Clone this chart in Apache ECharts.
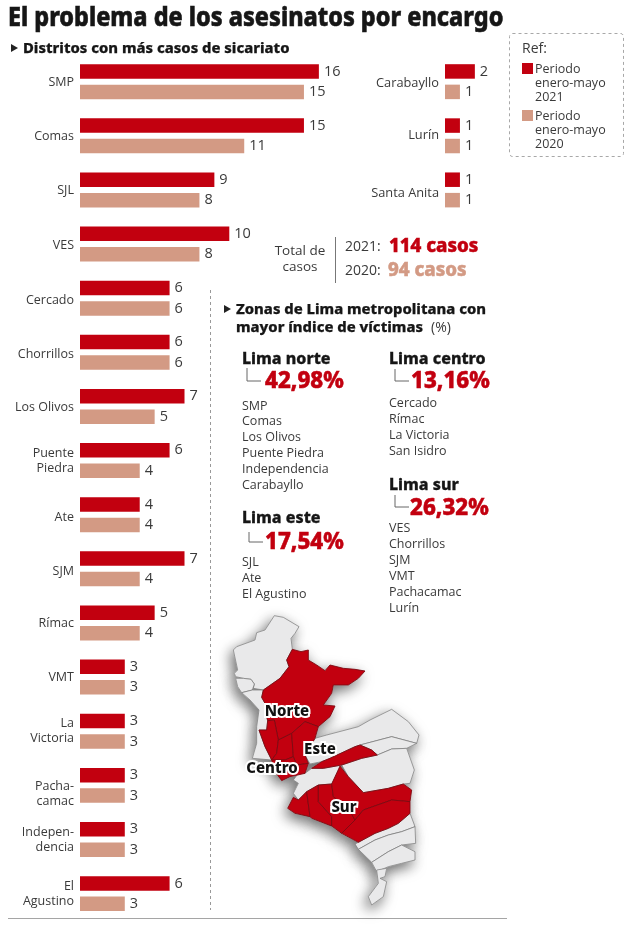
<!DOCTYPE html>
<html><head><meta charset="utf-8">
<style>html,body{margin:0;padding:0;background:#fff}#c{width:640px;height:926px}</style>
<script src="https://cdn.jsdelivr.net/npm/echarts@6/dist/echarts.min.js"></script>
</head><body><div id="c"></div>
<script>
// ---- data ----
const districtsMain = ['SMP','Comas','SJL','VES','Cercado','Chorrillos','Los Olivos','Puente\nPiedra','Ate','SJM','Rímac','VMT','La\nVictoria','Pacha-\ncamac','Indepen-\ndencia','El\nAgustino'];
const cases2021Main = [16,15,9,10,6,6,7,6,4,7,5,3,3,3,3,6];
const cases2020Main = [15,11,8,8,6,6,5,4,4,4,4,3,3,3,3,3];
const districtsSide = ['Carabayllo','Lurín','Santa Anita'];
const cases2021Side = [2,1,1];
const cases2020Side = [1,1,1];
const seriesNames = ['Periodo enero-mayo 2021','Periodo enero-mayo 2020'];
const labelNudgeMain = [1,1,1,1,2,2,1,0,3,3,0,0,0,9,0,0];
const labelNudgeSide = [2,0,3];
const RED='#c2000f', SALMON='#d39a84', INK='#161616', BODY='#3a3a3a';
const FONT='"Open Sans"', HEAD='"Noto Sans"';

// map regions (crop units)
const zonesRed = {
 n1:[[232,118],[258,125],[280,120],[280,150],[305,165],[330,182],[345,165],[385,175],[420,178],[450,183],[430,205],[400,225],[355,225],[350,250],[325,285],[360,288],[345,320],[310,350],[270,335],[230,370],[190,390],[178,330],[158,332],[150,300],[150,280],[140,262],[145,240],[195,205],[222,170],[215,150]],
 n2:[[158,332],[178,330],[190,390],[185,430],[170,450],[150,410],[132,360],[155,360]],
 n3:[[190,390],[230,370],[235,440],[210,450],[170,450],[185,430]],
 n4:[[230,370],[270,335],[310,350],[300,385],[270,435],[280,460],[245,465],[235,440]],
 c1:[[170,450],[210,450],[235,440],[245,465],[280,460],[270,490],[225,500],[200,512],[180,485]],
 e1:[[290,475],[320,455],[345,445],[420,410],[435,405],[470,420],[487,435],[440,445],[380,465],[325,475]],
 s1:[[218,595],[235,562],[250,570],[275,545],[285,620],[240,610]],
 s2:[[275,545],[310,525],[310,575],[350,620],[350,648],[290,625],[285,620]],
 s3:[[310,525],[350,522],[355,560],[400,595],[420,630],[380,670],[350,648],[350,620],[310,575]],
 s4:[[350,522],[375,468],[400,500],[445,548],[520,535],[565,522],[590,540],[585,575],[530,570],[445,600],[420,630],[400,595],[355,560]],
 s5:[[420,630],[445,600],[530,570],[585,575],[585,610],[550,640],[520,655],[480,670],[430,697],[380,670]]
};
const zonesGrey = {
 g1:[[178,17],[205,22],[252,50],[240,70],[228,85],[232,118],[215,150],[222,170],[195,205],[145,240],[115,235],[118,222],[108,208],[85,205],[62,200],[58,190],[68,180],[55,120],[65,110],[120,90],[125,68],[150,60]],
 g2:[[62,205],[85,205],[108,208],[118,222],[112,240],[80,248],[68,230]],
 g3:[[80,248],[112,240],[145,240],[140,262],[150,280],[150,300],[158,332],[155,360],[132,360],[150,410],[170,450],[112,445],[125,400],[125,350],[132,300],[105,270]],
 g4:[[335,375],[430,350],[465,330],[530,298],[580,335],[612,375],[605,400],[530,380],[435,405],[420,410],[345,445],[320,455],[285,462],[270,435],[300,385]],
 g5:[[435,405],[530,380],[605,400],[575,415],[530,417],[487,435],[470,420]],
 g6:[[380,465],[440,445],[487,435],[530,417],[575,415],[598,480],[585,520],[565,522],[520,535],[445,548],[400,500]],
 g7:[[250,490],[270,490],[290,475],[325,475],[380,465],[350,522],[310,525],[275,545],[250,570],[235,550],[250,520],[235,510]],
 g8:[[585,610],[600,650],[560,665],[520,675],[480,690],[430,718],[420,702],[430,697],[480,670],[520,655],[550,640]],
 g9:[[430,718],[480,690],[520,675],[560,665],[600,650],[602,700],[560,705],[520,725],[470,757]],
 g10:[[470,757],[520,725],[560,705],[600,725],[600,750],[560,760],[520,770],[485,785]],
 g11:[[485,780],[515,775],[510,800],[495,805],[515,815],[505,860],[470,885],[460,860],[490,820]]
};
const mapLabels = [['Norte',287,711],['Este',320,749],['Centro',272,768],['Sur',344,807]];

// ---- map ----
const poly=(name,ring)=>({type:'Feature',properties:{name},geometry:{type:'Polygon',coordinates:[ring.concat([ring[0]])]}});
echarts.registerMap('lima',{type:'FeatureCollection',features:[
 ...Object.entries(zonesGrey).map(([k,v])=>poly(k,v)),
 ...Object.entries(zonesRed).map(([k,v])=>poly(k,v))]});
const identity={project:p=>p,unproject:p=>p};
const baseGeo={map:'lima',projection:identity,boundingCoords:[[0,0],[660,930]],left:215,top:610,width:220,height:310,roam:false,silent:true,label:{show:false},emphasis:{disabled:true},select:{disabled:true}};
const redRegions=Object.keys(zonesRed).map(name=>({name,itemStyle:{areaColor:RED,borderColor:'#7d0a12',borderWidth:.9}}));

// ---- text helpers ----
const T=(text,x,y,size,o={})=>({type:'text',x,y:y+1,silent:true,z:20,scaleX:o.sx||1,style:Object.assign({text,fontSize:size,fontFamily:o.ff||FONT,fontWeight:o.w||'normal',fill:o.c||BODY,align:o.a||'left',verticalAlign:'middle'},o.s||{})});
const heavy=(c,w)=>({stroke:c,lineWidth:w});
const tri=(x,y)=>({type:'polygon',silent:true,shape:{points:[[x,y-4],[x+7,y],[x,y+4]]},style:{fill:'#222'}});
const L=(x,y1,y2,x2)=>({type:'polyline',silent:true,shape:{points:[[x,y1],[x,y2],[x2,y2]]},style:{stroke:'#666',fill:null,lineWidth:1}});
const list=(items,x,y0,step)=>items.map((t,i)=>T(t,x,y0+i*step,12.5));
const swatch=(x,y,c)=>({type:'rect',silent:true,shape:{x,y,width:11,height:11},style:{fill:c}});
const zoneBlock=(name,pct,x,y,px,py,bx,by1,by2)=>[T(name,x,y,16,{w:800,c:INK,ff:HEAD,s:heavy(INK,.3)}),L(bx,by1,by2,bx+14),T(pct,px,py+1,22.3,{w:800,c:RED,ff:HEAD,s:heavy(RED,.5)})];

const graphics=[
 T('El problema de los asesinatos por encargo',8,17,27,{w:800,c:INK,ff:HEAD,sx:.865,s:heavy(INK,.6)}),
 tri(11,48),T('Distritos con más casos de sicariato',23,48,14.8,{w:800,c:INK,ff:HEAD,s:heavy(INK,.25)}),
 {type:'rect',silent:true,shape:{x:509.5,y:33.5,width:114,height:123,r:3},style:{fill:null,stroke:'#a8a8a8',lineWidth:1,lineDash:[3,3]}},
 T('Ref:',522,48,14),
 swatch(522,63,RED),T('Periodo\nenero-mayo\n2021',535,82,12.5,{s:{lineHeight:14}}),
 swatch(522,110,SALMON),T('Periodo\nenero-mayo\n2020',535,129,12.5,{s:{lineHeight:14}}),
 T('Total de\ncasos',300,258,13.5,{a:'center',s:{lineHeight:16}}),
 {type:'line',silent:true,shape:{x1:335.5,y1:237,x2:335.5,y2:283},style:{stroke:'#777',lineWidth:1}},
 T('2021:',345,246,14),T('114 casos',389,246,18.7,{w:800,c:RED,ff:HEAD,s:heavy(RED,.5)}),
 T('2020:',345,270,14),T('94 casos',388,270,18.7,{w:800,c:SALMON,ff:HEAD,s:heavy(SALMON,.5)}),
 {type:'line',silent:true,shape:{x1:210.5,y1:290,x2:210.5,y2:910},style:{stroke:'#999',lineWidth:1,lineDash:[3,3]}},
 tri(224,309),T('Zonas de Lima metropolitana con',236,309,14.8,{w:800,c:INK,ff:HEAD,s:heavy(INK,.25)}),
 T('mayor índice de víctimas',236,327,14.8,{w:800,c:INK,ff:HEAD,s:heavy(INK,.25)}),T('(%)',431,327,14),
 ...zoneBlock('Lima norte','42,98%',242,358,265,380,247,368,381),
 ...list(['SMP','Comas','Los Olivos','Puente Piedra','Independencia','Carabayllo'],242,405,15.9),
 ...zoneBlock('Lima este','17,54%',242,517,265,541,249,532,542),
 ...list(['SJL','Ate','El Agustino'],242,561,16),
 ...zoneBlock('Lima centro','13,16%',389,358,411,380,395,369,381),
 ...list(['Cercado','Rímac','La Victoria','San Isidro'],389,402,16),
 ...zoneBlock('Lima sur','26,32%',389,484,410,507,395,495,507),
 ...list(['VES','Chorrillos','SJM','VMT','Pachacamac','Lurín'],389,527,16),
 ...mapLabels.map(([t,x,y])=>T(t,x,y,15,{w:800,c:'#111',ff:HEAD,a:'center',s:{stroke:'#fff',lineWidth:4}})),
 {type:'line',silent:true,shape:{x1:8,y1:918.5,x2:507,y2:918.5},style:{stroke:'#a5a5a5',lineWidth:1.2}}
];

// ---- chart ----
const UNIT=14.93, BAND=54.13, TOP=54.6;
const barSeries=(name,data,color,idx)=>({type:'bar',name,data,xAxisIndex:idx,yAxisIndex:idx,barWidth:14.5,barGap:'41%',itemStyle:{color},silent:true,
 label:{show:true,position:'right',distance:5,fontFamily:FONT,fontSize:14.5,color:BODY}});
const labelRich=(nudge,size)=>{
 const rich={b:{fontFamily:FONT,fontSize:size,color:BODY,lineHeight:15,align:'right'}};
 nudge.forEach(k=>{ if(k) rich['s'+k]={fontSize:1,lineHeight:k*2,height:k*2}; });
 return rich;
};
const cat=(data,nudge,size,idx)=>({type:'category',gridIndex:idx,data,
 inverse:true,axisLine:{show:false},axisTick:{show:false},
 axisLabel:{margin:6,fontFamily:FONT,fontSize:size,color:BODY,lineHeight:15,align:'right',rich:labelRich(nudge,size),
  formatter:(v,i)=>(nudge[i]?`{s${nudge[i]}| }\n`:'')+v.split('\n').map(l=>`{b|${l}}`).join('\n')}});
const val=(max,idx)=>({type:'value',gridIndex:idx,min:0,max,show:false});

echarts.init(document.getElementById('c'),null,{renderer:'canvas'}).setOption({
 animation:false,backgroundColor:'#fff',
 grid:[{left:80,top:TOP,width:20*UNIT,height:16*BAND},{left:445,top:TOP,width:5*UNIT,height:3*BAND}],
 xAxis:[val(20,0),val(5,1)],
 yAxis:[cat(districtsMain,labelNudgeMain,12.5,0),cat(districtsSide,labelNudgeSide,12.8,1)],
 series:[barSeries(seriesNames[0],cases2021Main,RED,0),barSeries(seriesNames[1],cases2020Main,SALMON,0),
         barSeries(seriesNames[0],cases2021Side,RED,1),barSeries(seriesNames[1],cases2020Side,SALMON,1)],
 geo:[Object.assign({},baseGeo,{z:1,itemStyle:{areaColor:'#e8e8e9',borderColor:'#e8e8e9',shadowColor:'rgba(0,0,0,.6)',shadowBlur:14,shadowOffsetX:-3,shadowOffsetY:5}}),
      Object.assign({},baseGeo,{z:2,itemStyle:{areaColor:'#e9e9ea',borderColor:'#777',borderWidth:.7},regions:redRegions})],
 graphic:{elements:graphics}
});
</script></body></html>
